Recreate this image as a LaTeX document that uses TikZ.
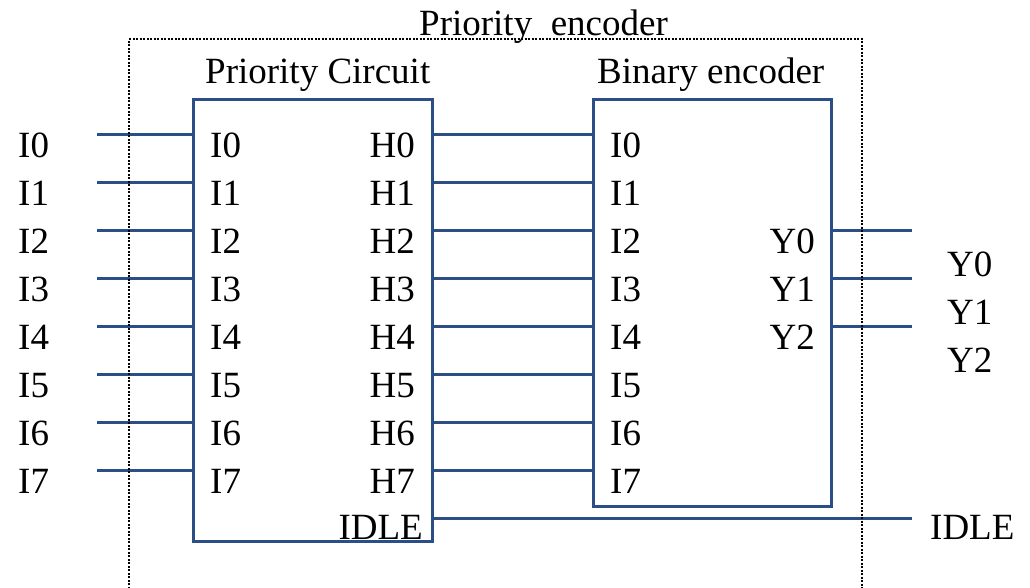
\documentclass[tikz,border=0pt]{standalone}
\usepackage{fontspec}
\setmainfont{Liberation Serif}
\usepackage {tikz}
\usetikzlibrary {positioning}
\definecolor{wireblue}{RGB}{44,78,135}

\begin{document}
\begin{tikzpicture}[x=1pt,y=-1pt,
  every node/.style={inner sep=0pt,font=\fontsize{37}{40}\selectfont},
  blk/.style={draw=wireblue,line width=3pt,rectangle},
  sig/.style={draw=wireblue,line width=3pt},
  frame/.style={draw=black,line width=2pt,dash pattern=on 2pt off 1.5pt}]
\useasboundingbox (0,0) rectangle (1030,587);
% the two blocks
\node[blk,minimum width=239pt,minimum height=442pt] (PC) at (312.5,320) {};
\node[blk,minimum width=238pt,minimum height=407pt] (BE) at (712,302.5) {};
\path (205,83) node[anchor=base west] (PCtitle) {Priority Circuit}
(597,83) node[anchor=base west] (BEtitle) {Binary encoder}
(419,35) node[anchor=base west] (PEtitle) {Priority\ \ encoder};
% eight rows of inputs
\foreach \k in {0,...,7}{
  \pgfmathsetmacro\yy{134+48*\k}
  \coordinate (in\k) at (97,\yy);
  \path (18,\yy+23) node[anchor=base west] (Lin\k) {I\k}
  (210,\yy+23) node[anchor=base west] (PCi\k) {I\k}
  (415,\yy+23) node[anchor=base east] (PCh\k) {H\k}
  (610,\yy+23) node[anchor=base west] (BEi\k) {I\k};
  \draw[sig] (in\k) -- (in\k -| PC.west);
  \draw[sig] (in\k -| PC.east) -- (in\k -| BE.west);
}
% outputs
\foreach \k/\n in {2/0,3/1,4/2}{
  \pgfmathsetmacro\yy{134+48*\k}
  \coordinate (out\n) at (912,\yy);
  \path (815,\yy+23) node[anchor=base east] (BEy\n) {Y\n}
  (947,276+48*\n) node[anchor=base west] (Lout\n) {Y\n};
  \draw[sig] (out\n -| BE.east) -- (out\n);
}
\coordinate (idle) at (912,518);
\path (423,539) node[anchor=base east] (PCidle) {IDLE}
(930,539) node[anchor=base west] (Lidle) {IDLE};
\draw[sig] (idle -| PC.east) -- (idle);
% dotted frame, open at the bottom
\draw[frame] (129,592) -- (129,39) -- (862,39) -- (862,592);
\end{tikzpicture}
\end{document}
